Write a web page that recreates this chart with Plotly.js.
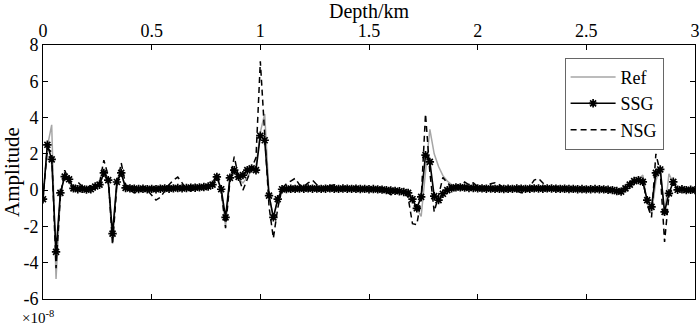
<!DOCTYPE html>
<html>
<head>
<meta charset="utf-8">
<script src="https://cdn.plot.ly/plotly-3.0.1.min.js"></script>
<style>html,body{margin:0;padding:0;background:#fff;}#chart{width:700px;height:329px;}</style>
</head>
<body>
<div id="chart"></div>
<script>
// Depth samples (km)
const depth = [0,0.02,0.04,0.06,0.08,0.10,0.12,0.14,0.16,0.18,0.20,0.22,0.24,0.26,0.28,0.30,0.32,0.34,0.36,0.38,
0.40,0.42,0.44,0.46,0.48,0.50,0.52,0.54,0.56,0.58,0.60,0.62,0.64,0.66,0.68,0.70,0.72,0.74,0.76,0.78,
0.80,0.82,0.84,0.86,0.88,0.90,0.92,0.94,0.96,0.98,1.00,1.02,1.04,1.06,1.08,1.10,1.12,1.14,1.16,1.18,
1.20,1.22,1.24,1.26,1.28,1.30,1.32,1.34,1.36,1.38,1.40,1.42,1.44,1.46,1.48,1.50,1.52,1.54,1.56,1.58,
1.60,1.62,1.64,1.66,1.68,1.70,1.72,1.74,1.76,1.78,1.80,1.82,1.84,1.86,1.88,1.90,1.92,1.94,1.96,1.98,
2.00,2.02,2.04,2.06,2.08,2.10,2.12,2.14,2.16,2.18,2.20,2.22,2.24,2.26,2.28,2.30,2.32,2.34,2.36,2.38,
2.40,2.42,2.44,2.46,2.48,2.50,2.52,2.54,2.56,2.58,2.60,2.62,2.64,2.66,2.68,2.70,2.72,2.74,2.76,2.78,
2.80,2.82,2.84,2.86,2.88,2.90,2.92,2.94,2.96,2.98,3.00];

// Amplitudes (x 1e-8)
const ref = [-0.5,2.4,3.6,-4.9,-0.2,0.8,0.4,0.1,0.05,0.05,0.05,0.05,0.2,0.3,0.9,0.5,-2.95,0.5,0.9,0.1,
0.1,0.08,0.06,0.07,0.05,0.06,0.05,0.07,0.09,0.08,0.09,0.11,0.1,0.11,0.13,0.13,0.14,0.16,0.2,0.3,
0.7,0.0,-2.0,0.6,1.0,0.6,0.4,0.7,1.1,1.3,3.2,4.2,-0.2,-1.6,-0.5,0.05,0.06,0.08,0.07,0.09,
0.08,0.1,0.08,0.09,0.07,0.08,0.1,0.08,0.07,0.09,0.08,0.07,0.08,0.06,0.07,0.05,0.06,0.04,0.03,0.0,
-0.02,-0.04,-0.06,-0.1,-0.15,-0.5,-1.0,-1.45,1.0,3.35,2.0,1.3,0.8,0.5,0.3,0.2,0.15,0.14,0.12,0.12,
0.1,0.1,0.08,0.09,0.07,0.08,0.06,0.08,0.07,0.09,0.08,0.07,0.08,0.1,0.09,0.08,0.1,0.09,0.08,0.07,
0.08,0.06,0.07,0.05,0.06,0.04,0.05,0.06,0.05,0.04,0.02,0.0,-0.05,-0.08,0.1,0.3,0.5,0.6,0.83,-0.7,
-1.3,0.5,1.3,-1.4,0.9,0.4,0.05,0.05,0.0,0.02,0.0];

const ssg = [-0.5,2.5,1.7,-3.4,-0.15,0.75,0.6,0.1,0.05,0.08,0.03,0.05,0.2,0.3,0.95,0.55,-2.4,0.45,0.95,0.12,
0.1,0.08,0.06,0.08,0.05,0.07,0.05,0.08,0.1,0.08,0.1,0.12,0.1,0.12,0.14,0.13,0.15,0.17,0.2,0.3,
0.73,0.05,-1.5,0.68,1.1,0.73,0.83,1.1,1.2,1.1,3.0,2.75,-0.3,-1.5,-0.5,0.05,0.06,0.08,0.07,0.09,
0.08,0.1,0.08,0.09,0.07,0.08,0.1,0.08,0.07,0.09,0.08,0.07,0.08,0.06,0.07,0.05,0.06,0.04,0.03,0.0,
-0.02,-0.04,-0.06,-0.1,-0.15,-0.5,-1.0,-0.37,1.93,1.56,-0.33,-0.55,-0.2,0.0,0.1,0.15,0.15,0.14,0.12,0.12,
0.1,0.1,0.08,0.09,0.07,0.08,0.06,0.08,0.07,0.09,0.08,0.07,0.08,0.1,0.09,0.08,0.1,0.09,0.08,0.07,
0.08,0.06,0.07,0.05,0.06,0.04,0.05,0.06,0.05,0.04,0.02,0.0,-0.05,-0.08,0.1,0.3,0.5,0.55,0.46,-0.55,
-0.92,0.95,1.14,-1.2,-0.18,0.46,0.02,0.05,0.0,0.02,0.0];

const nsg = [-0.5,2.3,2.1,-4.3,-0.3,1.1,0.5,0.1,0.45,0.2,0.05,0.3,0.1,0.4,1.65,0.8,-3.0,0.3,1.5,0.3,
0.0,-0.15,-0.1,0.05,0.0,-0.3,-0.55,-0.4,-0.05,0.3,0.55,0.72,0.4,0.05,-0.05,0.1,0.2,0.15,0.2,0.35,
0.9,0.0,-2.1,0.5,1.85,0.7,0.0,0.6,1.2,1.8,7.1,3.0,-0.9,-2.65,-1.0,0.1,0.35,0.5,0.65,0.3,
0.2,0.4,0.55,0.3,0.1,0.15,0.25,0.3,0.15,0.05,0.1,0.05,0.0,0.05,0.1,0.05,0.0,0.05,0.0,-0.1,
-0.25,-0.2,-0.05,-0.1,-0.4,-1.85,-1.9,-0.5,4.2,1.0,-1.2,-0.3,0.7,0.4,0.2,0.3,0.15,0.45,0.3,0.4,
0.2,0.1,0.2,0.35,0.4,0.3,0.1,0.05,0.0,-0.05,-0.15,-0.15,0.2,0.55,0.65,0.4,0.15,0.05,0.1,0.05,
0.08,0.05,0.1,0.06,0.05,0.08,0.05,0.06,0.04,0.05,0.02,0.0,-0.05,-0.08,0.1,0.3,0.5,0.5,0.6,-0.8,
-1.5,2.0,1.0,-2.85,-0.3,0.4,0.05,0.05,0.0,0.02,0.0];

const seriesNames = ['Ref','SSG','NSG'];
const xTicks = [0,0.5,1,1.5,2,2.5,3];
const xTickText = ['0','0.5','1','1.5','2','2.5','3'];
const yTicks = [-6,-4,-2,0,2,4,6,8];
const yTickText = ['-6','-4','-2','0','2','4','6','8'];

const traces = [
  {x: depth, y: ref, name: seriesNames[0], type: 'scatter', mode: 'lines',
   line: {color: '#a6a6a6', width: 1.5}},
  {x: depth, y: ssg, name: seriesNames[1], type: 'scatter', mode: 'lines+markers',
   line: {color: '#000', width: 1.6},
   marker: {symbol: 'asterisk-open', size: 7, color: '#000', line: {color: '#000', width: 1.7}}},
  {x: depth, y: nsg, name: seriesNames[2], type: 'scatter', mode: 'lines',
   line: {color: '#000', width: 1.5, dash: '6px,4px'}}
];

const layout = {
  width: 700, height: 329,
  margin: {l: 43, r: 5, t: 45, b: 30, pad: 0},
  paper_bgcolor: '#fff', plot_bgcolor: '#fff',
  font: {family: 'Liberation Serif, Times New Roman, serif', size: 18, color: '#000'},
  showlegend: true,
  legend: {x: 0.80, y: 0.95, xanchor: 'left', yanchor: 'top',
           bgcolor: '#fff', bordercolor: '#666', borderwidth: 1,
           font: {size: 18}, tracegroupgap: 0, itemwidth: 45},
  xaxis: {side: 'top', range: [0, 3], tickvals: xTicks, ticktext: xTickText,
          ticks: 'inside', ticklen: 5, tickcolor: '#000', showline: true, linecolor: '#000', linewidth: 1,
          mirror: 'ticks', showgrid: false, zeroline: false, tickfont: {size: 18},
          title: {text: 'Depth/km', standoff: 1, font: {size: 20}}},
  yaxis: {range: [-6, 8], tickvals: yTicks, ticktext: yTickText,
          ticks: 'inside', ticklen: 5, tickcolor: '#000', showline: true, linecolor: '#000', linewidth: 1,
          mirror: 'ticks', showgrid: false, zeroline: false, tickfont: {size: 18},
          title: {text: 'Amplitude', standoff: 1, font: {size: 21}}},
  annotations: [{xref: 'paper', yref: 'paper', x: -0.036, y: -0.072, xanchor: 'left', yanchor: 'middle',
                 text: '×10<sup>-8</sup>', showarrow: false, font: {size: 15}}]
};

Plotly.newPlot('chart', traces, layout, {displayModeBar: false, staticPlot: true});
</script>
</body>
</html>
